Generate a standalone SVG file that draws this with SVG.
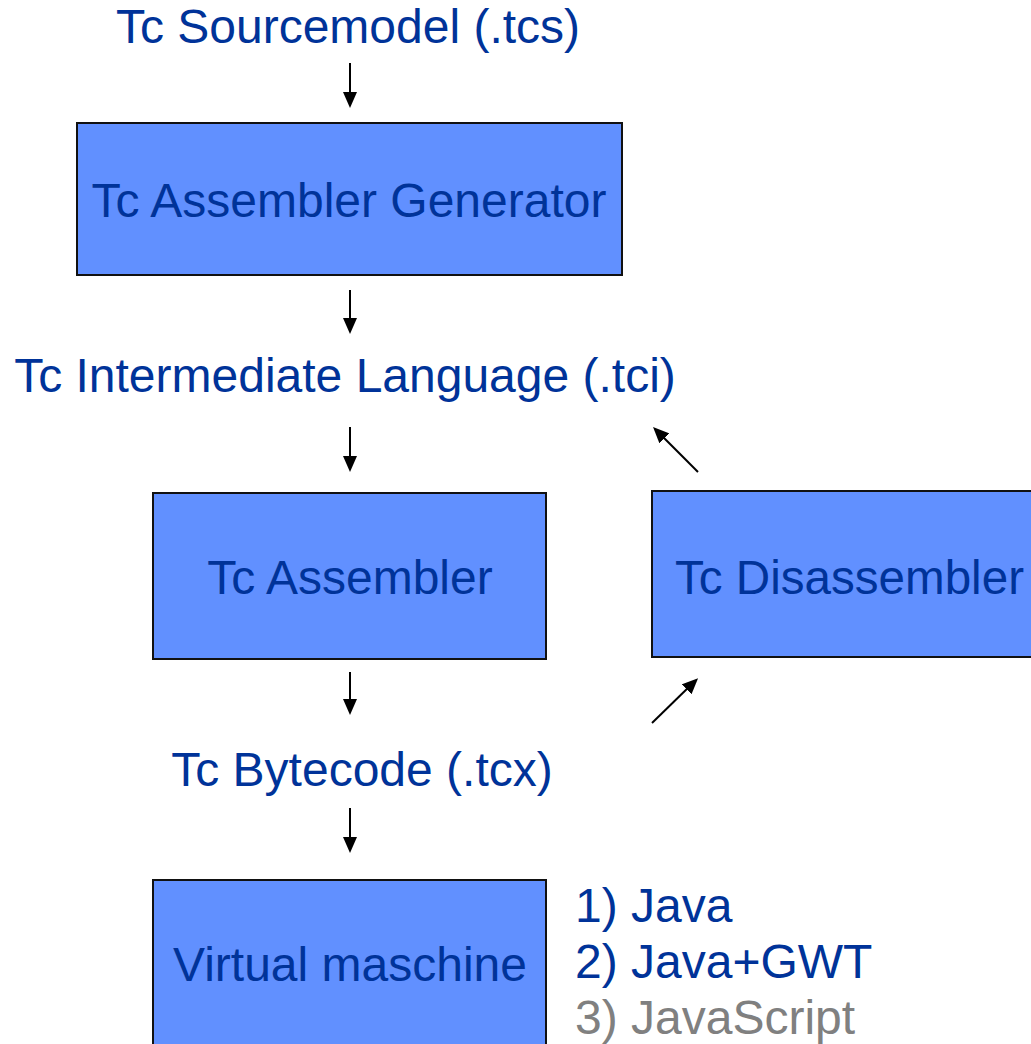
<svg xmlns="http://www.w3.org/2000/svg" width="1031" height="1044" viewBox="0 0 1031 1044">
<style>
  .box { fill: #6190FF; stroke: #111111; stroke-width: 2; }
  .t { font-family: "Liberation Sans", Arial, sans-serif; font-size: 48px; fill: #003399; }
  .g { fill: #808080; }
  .c { text-anchor: middle; }
  .conn line { stroke: #000000; stroke-width: 2; marker-end: url(#ah); }
</style>
<defs>
  <marker id="ah" viewBox="0 0 16 14" refX="5" refY="7" markerWidth="16" markerHeight="14" markerUnits="userSpaceOnUse" orient="auto">
    <path d="M0,0 L16,7 L0,14 z" fill="#000000"/>
  </marker>
</defs>
<rect width="1031" height="1044" fill="#ffffff"/>

<g id="sourcemodel">
  <text class="t c" x="348" y="43">Tc Sourcemodel (.tcs)</text>
</g>
<g id="assembler-generator">
  <rect class="box" x="77" y="123" width="545" height="152"/>
  <text class="t c" x="349" y="217">Tc Assembler Generator</text>
</g>
<g id="intermediate">
  <text class="t c" x="345" y="392">Tc Intermediate Language (.tci)</text>
</g>
<g id="assembler">
  <rect class="box" x="153" y="493" width="393" height="166"/>
  <text class="t c" x="350" y="594">Tc Assembler</text>
</g>
<g id="disassembler">
  <rect class="box" x="652" y="491" width="394" height="166"/>
  <text class="t" x="675" y="594" textLength="349" lengthAdjust="spacingAndGlyphs">Tc Disassembler</text>
</g>
<g id="bytecode">
  <text class="t c" x="362" y="786">Tc Bytecode (.tcx)</text>
</g>
<g id="vm">
  <rect class="box" x="153" y="880" width="393" height="175"/>
  <text class="t c" x="350" y="981">Virtual maschine</text>
</g>
<g id="targets">
  <text class="t" x="575" y="922">1) Java</text>
  <text class="t" x="575" y="978">2) Java+GWT</text>
  <text class="t g" x="575" y="1034">3) JavaScript</text>
</g>

<g id="connectors" class="conn">
  <line x1="350" y1="63" x2="350" y2="97"/>
  <line x1="350" y1="290" x2="350" y2="323"/>
  <line x1="350" y1="427" x2="350" y2="461"/>
  <line x1="350" y1="672" x2="350" y2="704"/>
  <line x1="350" y1="808" x2="350" y2="842"/>
  <line x1="698" y1="472" x2="660.8" y2="434.8"/>
  <line x1="652" y1="723" x2="690.2" y2="685.8"/>
</g>
</svg>
